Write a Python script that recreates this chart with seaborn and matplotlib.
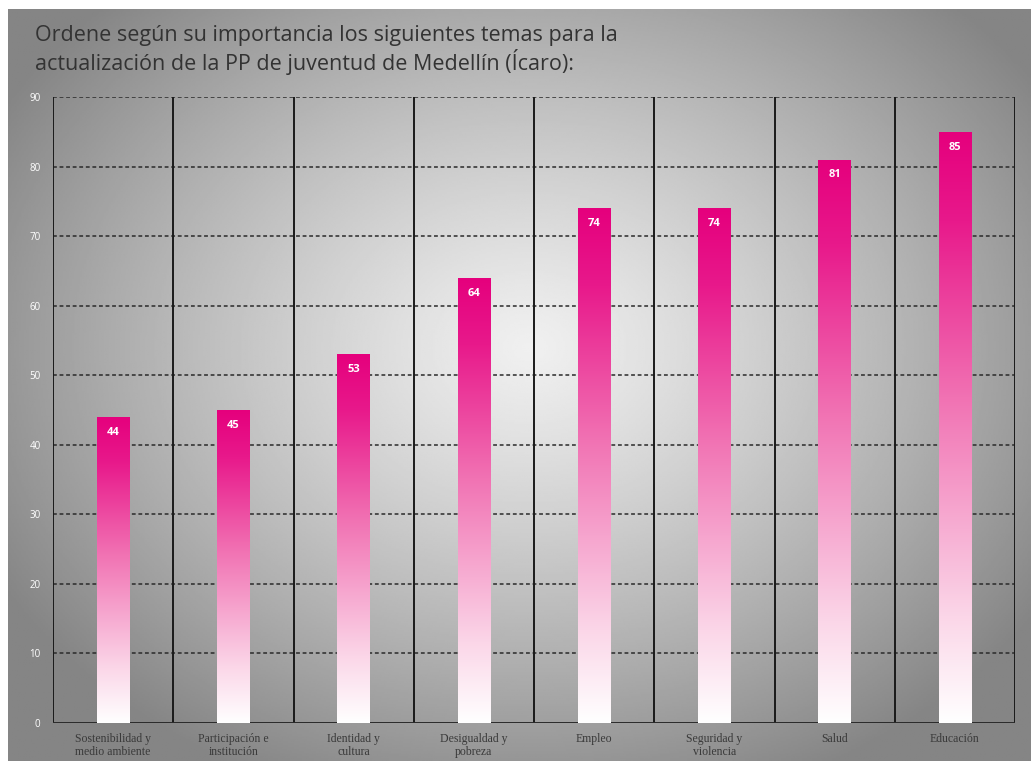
import numpy as np
import pandas as pd
import matplotlib
matplotlib.use("Agg")
import matplotlib.pyplot as plt
import seaborn as sns
from matplotlib.colors import LinearSegmentedColormap

categories = ["Sostenibilidad y\nmedio ambiente", "Participación e\ninstitución", "Identidad y\ncultura",
              "Desigualdad y\npobreza", "Empleo", "Seguridad y\nviolencia", "Salud", "Educación"]
values = [44, 45, 53, 64, 74, 74, 81, 85]
y_ticks = [0, 10, 20, 30, 40, 50, 60, 70, 80, 90]
title = "Ordene según su importancia los siguientes temas para la\nactualización de la PP de juventud de Medellín (Ícaro):"

sns.set_theme(style="white")
plt.rcParams['font.family'] = ['Open Sans', 'DejaVu Sans']

W, H = 1031, 761
fig = plt.figure(figsize=(W / 100, H / 100), dpi=100)
fig.patch.set_facecolor("white")

# background radial gradient
bg = fig.add_axes([8 / W, 0, 1 - 8 / W, 1 - 9 / H], zorder=0)
yy, xx = np.mgrid[0:1:400j, 0:1:600j]
r = np.sqrt(((xx - 0.51) / 0.75) ** 2 + ((yy - 0.45) / 0.8) ** 2)
g = np.clip(0.94 - 0.55 * r ** 1.2, 0.52, 0.95)
bg.imshow(g, cmap="gray", vmin=0, vmax=1, aspect="auto", extent=[0, 1, 0, 1], origin="upper")
bg.set_axis_off()

ax = fig.add_axes([53 / W, 1 - 723 / H, (1015 - 53) / W, (723 - 97) / H], zorder=1)
ax.patch.set_alpha(0)

df = pd.DataFrame({"cat": categories, "val": values})
sns.barplot(data=df, x="cat", y="val", ax=ax, width=0.27, color="#e6007e", saturation=1, zorder=3)

cmap = LinearSegmentedColormap.from_list("pk", [(0, "#ffffff"), (0.18, "#fbd6e8"), (0.55, "#f172b3"), (0.85, "#e8198b"), (1, "#e5007d")])
grad = np.linspace(0, 1, 256).reshape(-1, 1)
for p in ax.patches:
    x0, w, h = p.get_x(), p.get_width(), p.get_height()
    im = ax.imshow(grad, cmap=cmap, aspect="auto", extent=[x0, x0 + w, 0, h], origin="lower", zorder=3)
    im.set_clip_path(p)
    p.set_facecolor("none")
    p.set_edgecolor("none")
    ax.text(x0 + w / 2, h - 2.2, f"{int(h)}", ha="center", va="center", color="white",
            fontsize=8, fontweight="bold", zorder=5)

ax.set_xlim(-0.5, len(categories) - 0.5)
ax.set_ylim(0, 90)
ax.set_yticks(y_ticks)
ax.set_yticklabels([str(t) for t in y_ticks], color="white", fontsize=7)
ax.set_xticks(range(len(categories)))
ax.set_xticklabels(categories, fontsize=8.5, color="#3a3a3a", family="Liberation Serif", linespacing=1.15)
ax.tick_params(axis="x", length=0, pad=7)
ax.tick_params(axis="y", length=0, pad=9)
ax.set_xlabel("")
ax.set_ylabel("")
for t in y_ticks[1:]:
    ax.axhline(t, color="#2a2a2a", linestyle=(0, (2.5, 1.8)), linewidth=1.1, zorder=2)
for b in np.arange(-0.5, len(categories), 1.0):
    ax.axvline(b, color="#1a1a1a", linewidth=1.4, zorder=2)
ax.axhline(0, color="#2a2a2a", linewidth=1.4, zorder=2)
for s in ax.spines.values():
    s.set_visible(False)

fig.text(35 / W, 1 - 25 / H, title, ha="left", va="top", fontsize=15.5, color="#333333", linespacing=1.15)

fig.savefig("out.png", dpi=100)
